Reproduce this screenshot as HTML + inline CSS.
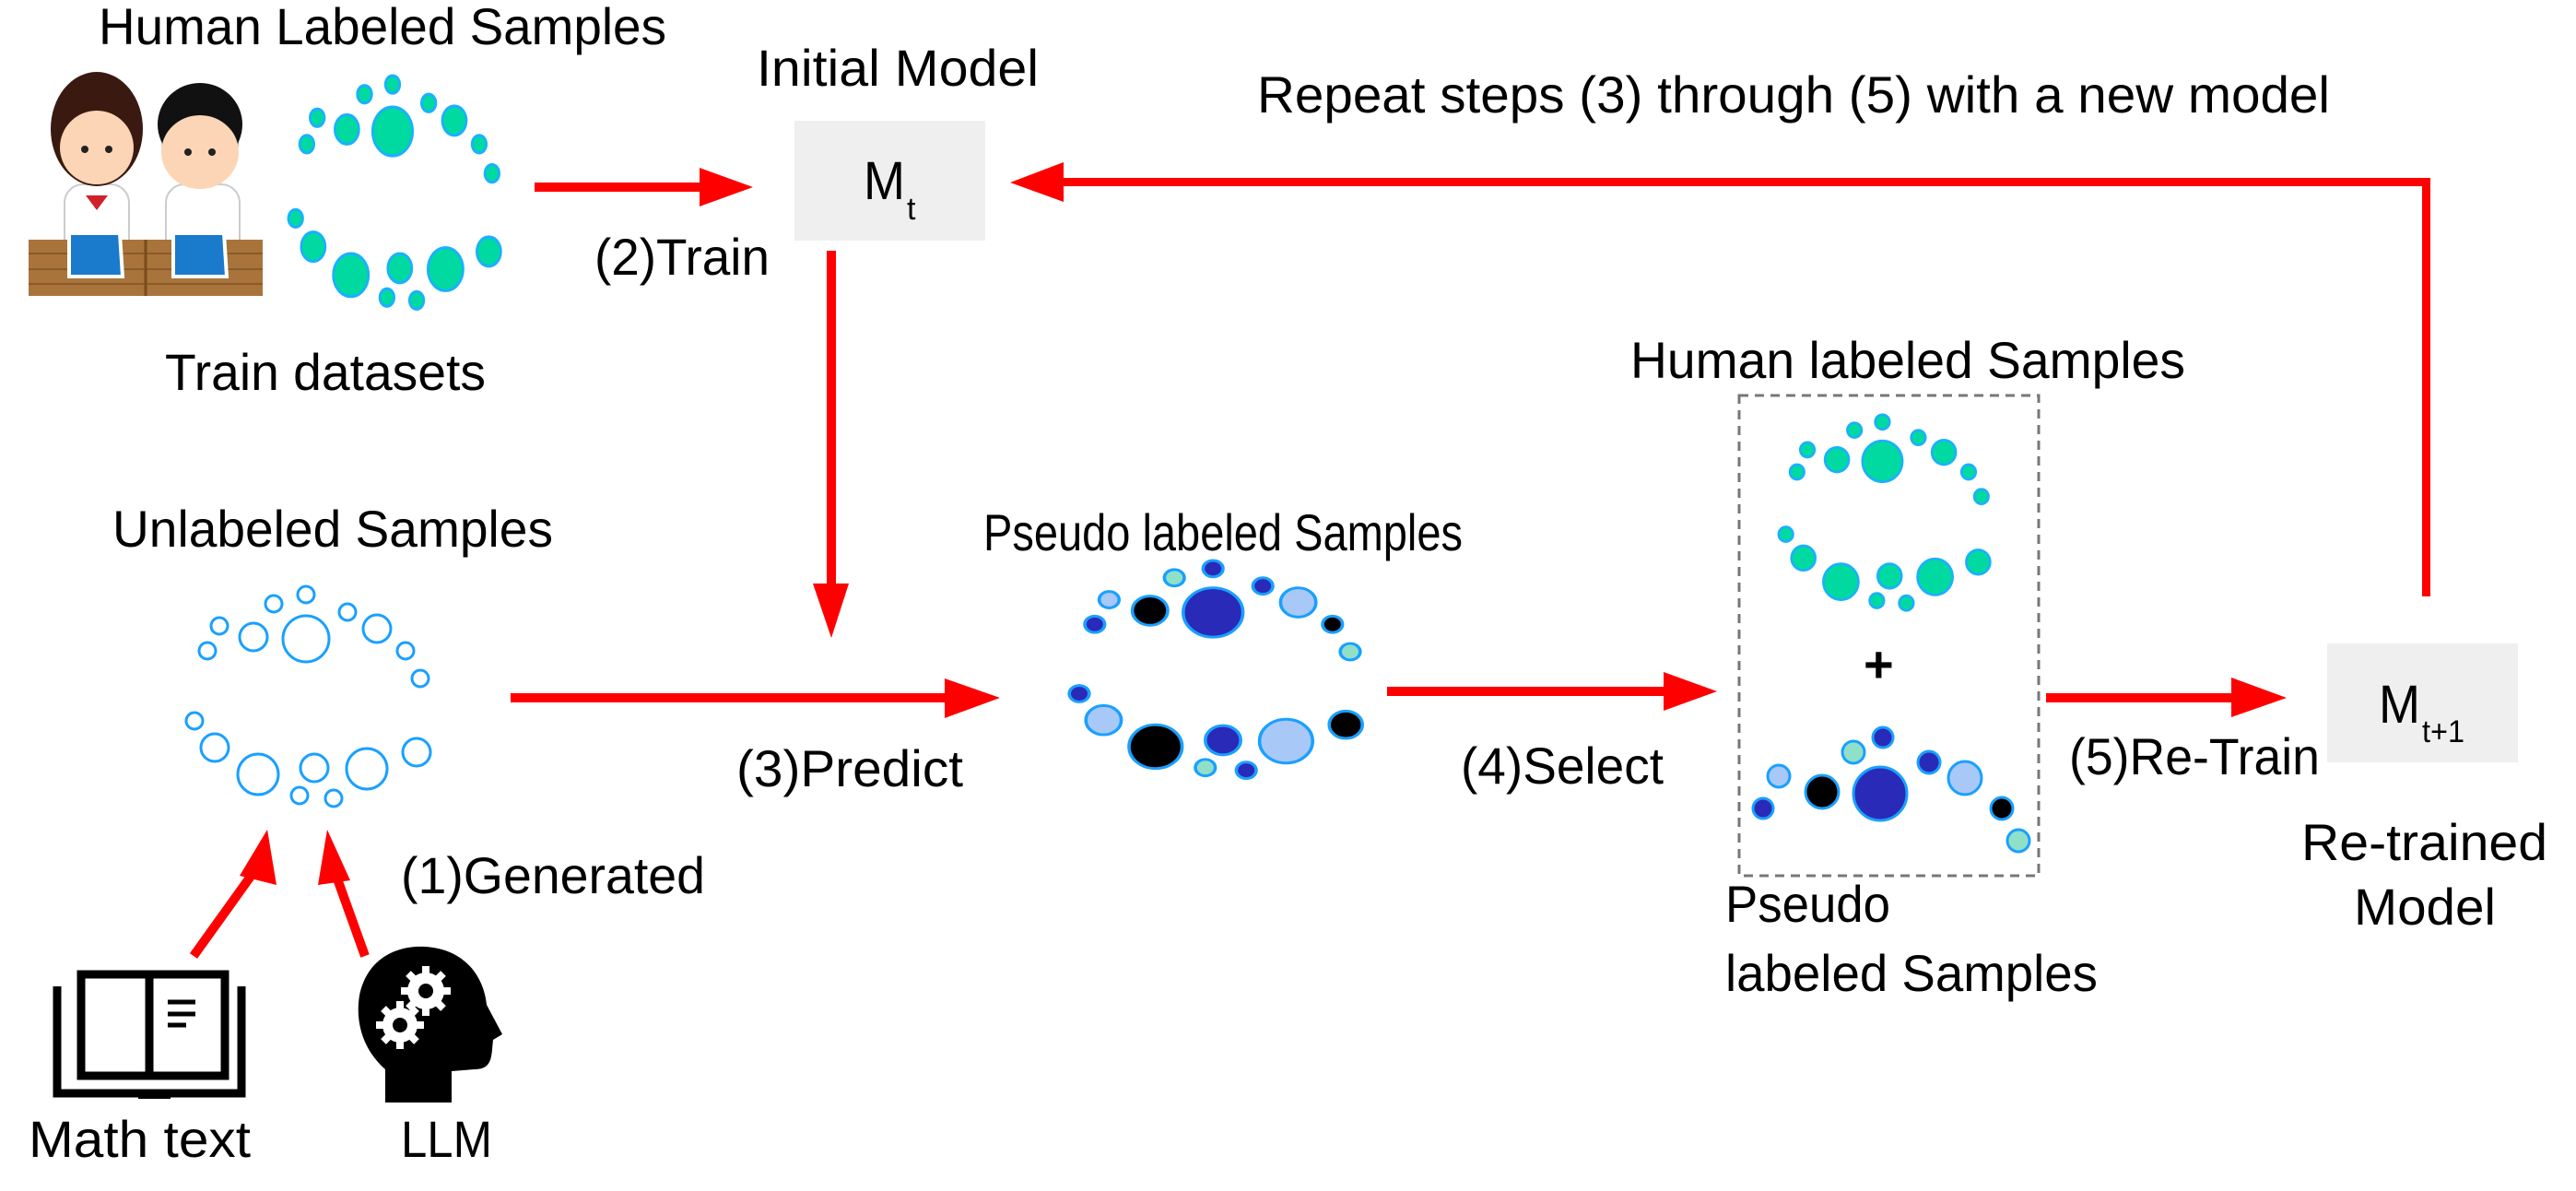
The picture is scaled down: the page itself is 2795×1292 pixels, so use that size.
<!DOCTYPE html>
<html><head><meta charset="utf-8"><style>
html,body{margin:0;padding:0;background:#fff;width:2795px;height:1292px;overflow:hidden}
svg{display:block}
text{font-family:"Liberation Sans",sans-serif;fill:#000}
</style></head><body>
<svg width="2795" height="1292" viewBox="0 0 2795 1292" xmlns="http://www.w3.org/2000/svg">
<defs>
<g id="ring">
<circle cx="332" cy="645" r="9"/><circle cx="297" cy="655" r="9"/><circle cx="238" cy="679" r="9"/>
<circle cx="275" cy="691" r="15"/><circle cx="332" cy="693" r="25"/><circle cx="377" cy="664" r="9"/>
<circle cx="409" cy="682" r="15"/><circle cx="225" cy="706" r="9"/><circle cx="440" cy="706" r="9"/>
<circle cx="456" cy="736" r="9"/><circle cx="211" cy="782" r="9"/><circle cx="233" cy="811" r="15"/>
<circle cx="280" cy="840" r="22"/><circle cx="341" cy="833" r="15"/><circle cx="398" cy="834" r="22"/>
<circle cx="452" cy="816" r="15"/><circle cx="325" cy="863" r="9"/><circle cx="362" cy="866" r="9"/>
</g>
</defs>

<!-- Texts -->
<text x="107" y="48" font-size="56" textLength="616" lengthAdjust="spacingAndGlyphs">Human Labeled Samples</text>
<text x="821" y="93" font-size="56" textLength="306" lengthAdjust="spacingAndGlyphs">Initial Model</text>
<text x="1364" y="122" font-size="56" textLength="1164" lengthAdjust="spacingAndGlyphs">Repeat steps (3) through (5) with a new model</text>
<text x="645" y="298" font-size="56" textLength="190" lengthAdjust="spacingAndGlyphs">(2)Train</text>
<text x="179" y="423" font-size="56" textLength="348" lengthAdjust="spacingAndGlyphs">Train datasets</text>
<text x="1769" y="410" font-size="56" textLength="602" lengthAdjust="spacingAndGlyphs">Human labeled Samples</text>
<text x="122" y="593" font-size="56" textLength="478" lengthAdjust="spacingAndGlyphs">Unlabeled Samples</text>
<text x="1067" y="597" font-size="56" textLength="520" lengthAdjust="spacingAndGlyphs">Pseudo labeled Samples</text>
<text x="799" y="853" font-size="56" textLength="246" lengthAdjust="spacingAndGlyphs">(3)Predict</text>
<text x="1585" y="850" font-size="56" textLength="220" lengthAdjust="spacingAndGlyphs">(4)Select</text>
<text x="2245" y="840" font-size="56" textLength="272" lengthAdjust="spacingAndGlyphs">(5)Re-Train</text>
<text x="435" y="969" font-size="56" textLength="330" lengthAdjust="spacingAndGlyphs">(1)Generated</text>
<text x="2497" y="933" font-size="56" textLength="267" lengthAdjust="spacingAndGlyphs">Re-trained</text>
<text x="2554" y="1003" font-size="56" textLength="154" lengthAdjust="spacingAndGlyphs">Model</text>
<text x="1872" y="1000" font-size="56" textLength="179" lengthAdjust="spacingAndGlyphs">Pseudo</text>
<text x="1872" y="1075" font-size="56" textLength="404" lengthAdjust="spacingAndGlyphs">labeled Samples</text>
<text x="31" y="1255" font-size="56" textLength="241" lengthAdjust="spacingAndGlyphs">Math text</text>
<text x="435" y="1255" font-size="56" textLength="99" lengthAdjust="spacingAndGlyphs">LLM</text>

<!-- Model boxes -->
<rect x="862" y="131" width="207" height="130" fill="#efefef"/>
<text x="937" y="216" font-size="58" textLength="45" lengthAdjust="spacingAndGlyphs">M</text>
<text x="984" y="238" font-size="34">t</text>
<rect x="2525" y="698" width="207" height="129" fill="#efefef"/>
<text x="2581" y="784" font-size="58" textLength="45" lengthAdjust="spacingAndGlyphs">M</text>
<text x="2628" y="805" font-size="34" textLength="46" lengthAdjust="spacingAndGlyphs">t+1</text>

<!-- Arrows -->
<g fill="#ff0000" stroke="none">
<rect x="580" y="198" width="182" height="10"/><polygon points="759,182 817,203 759,224"/>
<rect x="1150" y="193" width="1487" height="9"/><rect x="2628" y="193" width="9" height="454"/>
<polygon points="1096,198 1154,176 1154,219"/>
<rect x="897" y="272" width="10" height="364"/><polygon points="882,633 921,633 902,692"/>
<rect x="554" y="752" width="475" height="10"/><polygon points="1025,736 1085,757 1025,779"/>
<rect x="1505" y="745" width="304" height="10"/><polygon points="1805,729 1863,750 1805,771"/>
<rect x="2220" y="752" width="205" height="10"/><polygon points="2421,735 2481,757 2421,778"/>
</g>
<g stroke="#ff0000" stroke-width="10" fill="#ff0000">
<line x1="210" y1="1037" x2="276" y2="945"/>
<line x1="396" y1="1037" x2="363" y2="945"/>
<polygon points="290,900 300,960 260,950" stroke="none"/>
<polygon points="355,900 380,955 345,960" stroke="none"/>
</g>

<!-- Dashed box -->
<rect x="1887" y="429" width="325" height="521" fill="none" stroke="#777" stroke-width="3" stroke-dasharray="10,7"/>
<text x="2022" y="740" font-size="56" font-weight="bold">+</text>

<!-- Unlabeled cluster -->
<g fill="none" stroke="#1aa0ff" stroke-width="3"><use href="#ring"/></g>

<!-- Human labeled cluster -->
<g transform="translate(312,80) scale(0.87,1.06) translate(-201,-634)" fill="#00d9a0" stroke="#1ab0ff" stroke-width="3">
<use href="#ring"/>
</g>
<!-- Box top green -->
<g transform="translate(1929,448) scale(0.866,0.889) translate(-201,-634)" fill="#00d9a0" stroke="#1ab0ff" stroke-width="3">
<use href="#ring"/>
</g>

<!-- Pseudo cluster -->
<g transform="translate(1159,606) scale(1.2,0.99) translate(-201,-634)" stroke="#1aa0ff" stroke-width="3">
<circle cx="332" cy="645" r="9" fill="#2a2ab8"/><circle cx="297" cy="655" r="9" fill="#90e0c8"/><circle cx="238" cy="679" r="9" fill="#a8c8f8"/>
<circle cx="275" cy="691" r="16" fill="#000"/><circle cx="332" cy="693" r="27" fill="#2a2ab8"/><circle cx="377" cy="664" r="9" fill="#2a2ab8"/>
<circle cx="409" cy="682" r="16" fill="#a8c8f8"/><circle cx="225" cy="706" r="9" fill="#2a2ab8"/><circle cx="440" cy="706" r="9" fill="#000"/>
<circle cx="456" cy="736" r="9" fill="#90e0c8"/><circle cx="211" cy="782" r="9" fill="#2a2ab8"/><circle cx="233" cy="811" r="16" fill="#a8c8f8"/>
<circle cx="280" cy="840" r="24" fill="#000"/><circle cx="341" cy="833" r="16" fill="#2a2ab8"/><circle cx="398" cy="834" r="24" fill="#a8c8f8"/>
<circle cx="452" cy="816" r="15" fill="#000"/><circle cx="325" cy="863" r="9" fill="#90e0c8"/><circle cx="362" cy="866" r="9" fill="#2a2ab8"/>
</g>

<!-- Box bottom blue (arc) -->
<g stroke="#1aa0ff" stroke-width="3">
<circle cx="2043" cy="800" r="11" fill="#2a2ab8"/><circle cx="2011" cy="816" r="12" fill="#90e0c8"/>
<circle cx="2093" cy="827" r="12" fill="#2a2ab8"/><circle cx="1930" cy="842" r="12" fill="#a8c8f8"/>
<circle cx="1977" cy="859" r="18" fill="#000"/><circle cx="2040" cy="861" r="29" fill="#2a2ab8"/>
<circle cx="2132" cy="844" r="18" fill="#a8c8f8"/><circle cx="1913" cy="877" r="11" fill="#2a2ab8"/>
<circle cx="2172" cy="877" r="12" fill="#000"/><circle cx="2190" cy="912" r="12" fill="#90e0c8"/>
</g>

<!-- Students -->
<g>
<rect x="70" y="200" width="70" height="90" rx="20" fill="#fff" stroke="#ccc" stroke-width="2"/>
<rect x="180" y="200" width="80" height="90" rx="20" fill="#fff" stroke="#ccc" stroke-width="2"/>
<ellipse cx="105" cy="140" rx="50" ry="62" fill="#3a1a10"/>
<ellipse cx="105" cy="160" rx="40" ry="40" fill="#fbd5b5"/>
<path d="M62,140 Q105,95 148,140 L148,120 Q105,70 62,120 Z" fill="#3a1a10"/>
<ellipse cx="217" cy="135" rx="46" ry="45" fill="#111"/>
<ellipse cx="217" cy="165" rx="42" ry="40" fill="#fbd5b5"/>
<path d="M175,160 Q180,100 217,100 Q258,100 259,160 L255,128 Q217,110 180,128 Z" fill="#111"/>
<g fill="#222"><circle cx="92" cy="162" r="4"/><circle cx="118" cy="162" r="4"/><circle cx="204" cy="165" r="4"/><circle cx="230" cy="165" r="4"/></g>
<polygon points="93,212 117,212 105,228" fill="#d0202a"/>
<rect x="31" y="260" width="254" height="61" fill="#a8743c"/>
<g stroke="#8a5a2a" stroke-width="2"><line x1="31" y1="275" x2="285" y2="275"/><line x1="31" y1="292" x2="285" y2="292"/><line x1="31" y1="308" x2="285" y2="308"/></g>
<line x1="158" y1="260" x2="158" y2="321" stroke="#7a4a1a" stroke-width="3"/>
<polygon points="75,253 130,253 133,300 75,300" fill="#1a7acc" stroke="#fff" stroke-width="4"/>
<polygon points="188,253 243,253 246,300 188,300" fill="#1a7acc" stroke="#fff" stroke-width="4"/>
</g>

<!-- Book icon -->
<g fill="none" stroke="#000" stroke-width="9">
<rect x="88" y="1057" width="156" height="110"/>
<line x1="162" y1="1057" x2="162" y2="1167"/>
<polyline points="62,1070 62,1186 262,1186 262,1070"/>
</g>
<rect x="150" y="1184" width="35" height="8" fill="#000"/>
<g stroke="#000" stroke-width="5"><line x1="182" y1="1087" x2="212" y2="1087"/><line x1="182" y1="1100" x2="212" y2="1100"/><line x1="182" y1="1112" x2="202" y2="1112"/></g>

<!-- Head icon -->
<path d="M418,1196 L418,1160 C395,1140 385,1110 390,1080 C398,1040 430,1025 462,1027 C505,1030 525,1060 528,1090 L545,1122 L535,1128 C533,1145 535,1160 515,1160 L490,1162 L490,1196 Z" fill="#000"/>
<g fill="#fff"><circle cx="462" cy="1075" r="20"/><circle cx="434" cy="1112" r="19"/></g>
<g stroke="#fff" stroke-width="8"><line x1="462" y1="1048" x2="462" y2="1102"/><line x1="435" y1="1075" x2="489" y2="1075"/>
<line x1="443" y1="1056" x2="481" y2="1094"/><line x1="481" y1="1056" x2="443" y2="1094"/>
<line x1="434" y1="1086" x2="434" y2="1138"/><line x1="408" y1="1112" x2="460" y2="1112"/>
<line x1="416" y1="1094" x2="452" y2="1130"/><line x1="452" y1="1094" x2="416" y2="1130"/></g>
<g fill="#000"><circle cx="462" cy="1075" r="8"/><circle cx="434" cy="1112" r="8"/></g>
</svg>
</body></html>
